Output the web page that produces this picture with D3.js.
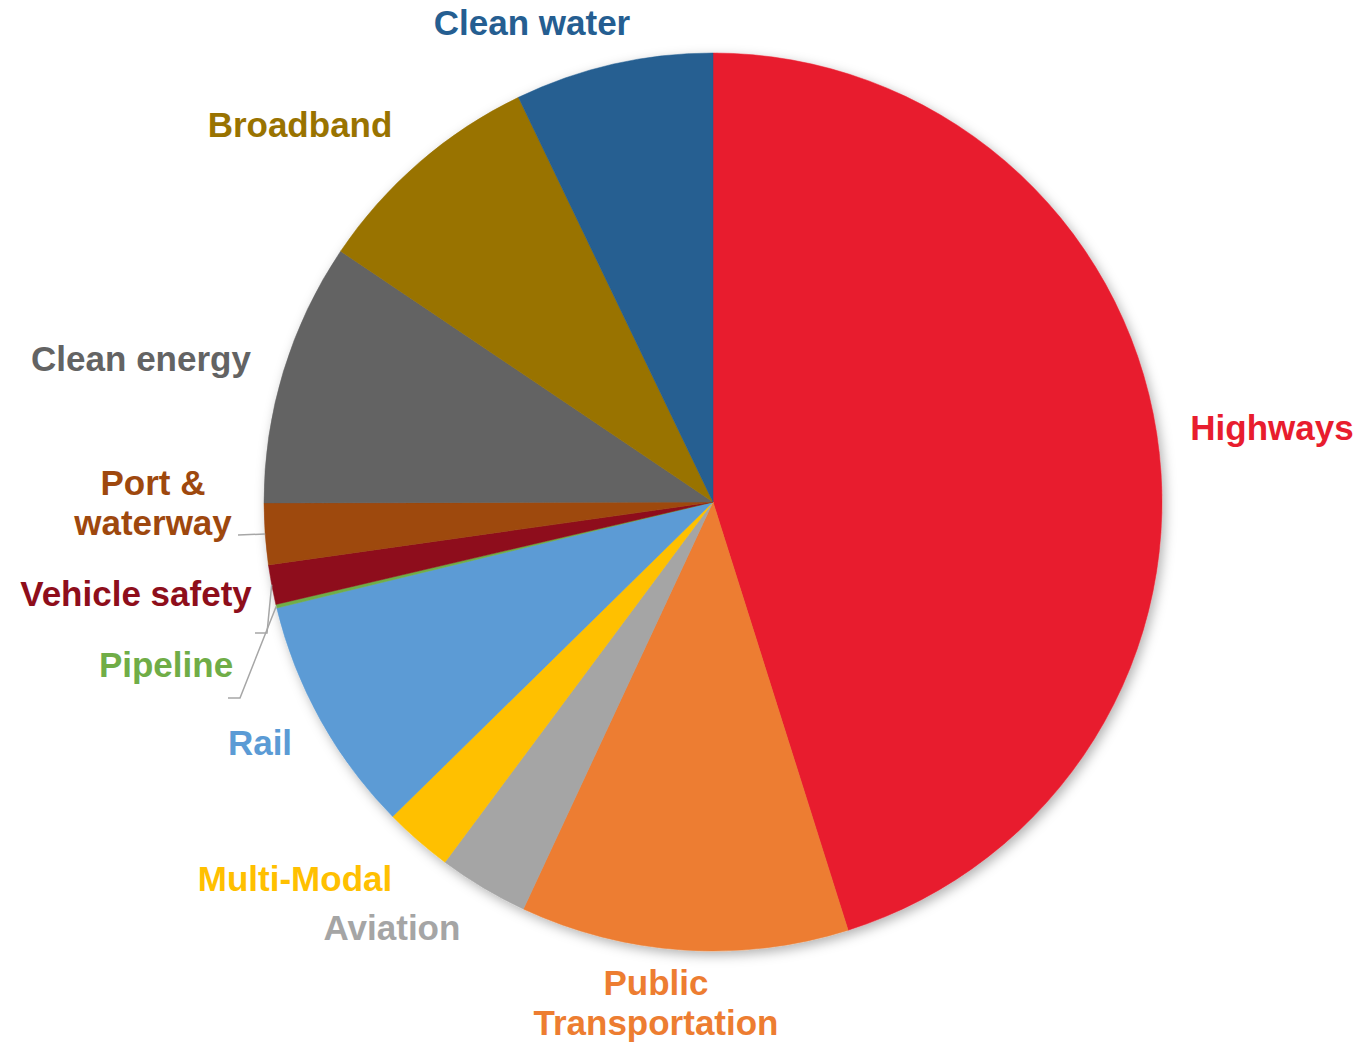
<!DOCTYPE html>
<html>
<head>
<meta charset="utf-8">
<script src="https://cdn.jsdelivr.net/npm/d3@7"></script>
<style>
  body { margin: 0; background: #fff; }
  text { font-family: "Liberation Sans", Arial, sans-serif; font-weight: bold; }
</style>
</head>
<body>
<div id="canvas"></div>
<script>
// chart data (billions)
var categories = ["Highways", "Public Transportation", "Aviation", "Multi-Modal", "Rail", "Pipeline",
                  "Vehicle safety", "Port & waterway", "Clean energy", "Broadband", "Clean water"];
var values = [348, 91, 25, 19, 66, 1, 11, 17, 73, 65, 55];
var colors = ["#e81d2e", "#ed7d31", "#a5a5a5", "#ffc000", "#5b9bd5", "#70ad47",
              "#8e0e1b", "#9e480e", "#636363", "#997300", "#255e91"];

// label layout: lines of text, centre x, first baseline y
var labelLayout = {
    "Highways": {lines: ["Highways"], x: 1272, y: 440},
    "Public Transportation": {lines: ["Public", "Transportation"], x: 656, y: 995},
    "Aviation": {lines: ["Aviation"], x: 392, y: 940},
    "Multi-Modal": {lines: ["Multi-Modal"], x: 295, y: 891},
    "Rail": {lines: ["Rail"], x: 260, y: 755},
    "Pipeline": {lines: ["Pipeline"], x: 166, y: 677, leader: [228, 698, 240]},
    "Vehicle safety": {lines: ["Vehicle safety"], x: 136, y: 606, leader: [255, 633, 267]},
    "Port & waterway": {lines: ["Port &", "waterway"], x: 153, y: 495, leader: [238, 535, 238]},
    "Clean energy": {lines: ["Clean energy"], x: 141, y: 371},
    "Broadband": {lines: ["Broadband"], x: 300, y: 137},
    "Clean water": {lines: ["Clean water"], x: 532, y: 35}
};

var w = 1365, h = 1042;
var cx = 713, cy = 502, radius = 449;

var svg = d3.select("#canvas")
    .append("svg")
    .attr("width", w)
    .attr("height", h);

// soft shadow like the office chart
var filter = svg.append("defs").append("filter")
    .attr("id", "shadow")
    .attr("x", "-10%").attr("y", "-10%")
    .attr("width", "120%").attr("height", "120%");
filter.append("feDropShadow")
    .attr("dx", 3).attr("dy", 4)
    .attr("stdDeviation", 6)
    .attr("flood-color", "#000")
    .attr("flood-opacity", 0.3);

var table = categories.map((c, i) => ({name: c, value: values[i], color: colors[i]}));

var pie = d3.pie()
    .value(d => d.value)
    .sort(null);

var arc = d3.arc()
    .innerRadius(0)
    .outerRadius(radius);

var arcs = pie(table);

var g = svg.append("g")
    .attr("transform", `translate(${cx},${cy})`);

g.append("g")
    .attr("filter", "url(#shadow)")
    .selectAll("path")
    .data(arcs)
    .join("path")
    .attr("d", arc)
    .attr("fill", d => d.data.color)
    .attr("stroke", d => d.data.color)
    .attr("stroke-width", 0.5);

// leader lines for the small slices
arcs.forEach(function(d) {
    var lay = labelLayout[d.data.name];
    if (!lay.leader) return;
    var mid = (d.startAngle + d.endAngle) / 2;
    var px = cx + radius * Math.sin(mid);
    var py = cy - radius * Math.cos(mid);
    svg.append("polyline")
        .attr("points", [[lay.leader[0], lay.leader[1]], [lay.leader[2], lay.leader[1]], [px, py]].join(" "))
        .attr("fill", "none")
        .attr("stroke", "#a6a6a6")
        .attr("stroke-width", 1.5);
});

// labels
arcs.forEach(function(d) {
    var lay = labelLayout[d.data.name];
    var t = svg.append("text")
        .attr("text-anchor", "middle")
        .attr("fill", d.data.color)
        .style("font-size", "35px");
    lay.lines.forEach(function(line, i) {
        t.append("tspan")
            .attr("x", lay.x)
            .attr("y", lay.y + i * 40)
            .text(line);
    });
});
</script>
</body>
</html>
